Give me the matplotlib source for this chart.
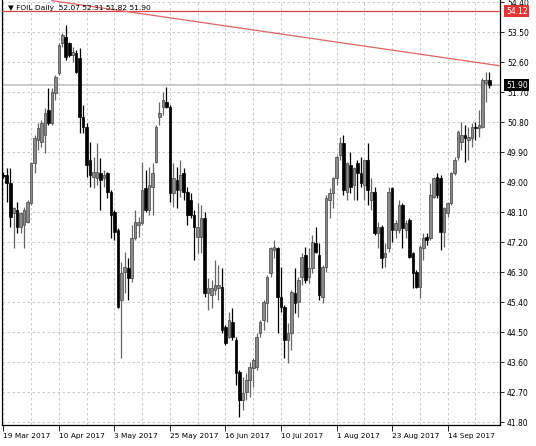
import numpy as np
import matplotlib
matplotlib.use('Agg')
import matplotlib.pyplot as plt
import matplotlib.transforms as mtransforms

# daily OHLC (141 bars, 19 Mar 2017 onwards)
opens = [49.21, 49.21, 48.96, 48.06, 48.16, 47.66, 47.71, 47.81, 48.36, 49.56,
         50.26, 50.21, 50.41, 51.16, 50.76, 51.66, 52.26, 53.16, 53.36, 53.16,
         52.81, 52.86, 52.71, 50.96, 50.66, 49.66, 49.16, 49.11, 49.26, 49.11,
         49.26, 48.71, 48.11, 47.56, 45.46, 46.31, 46.41, 46.11, 47.31, 47.71,
         47.76, 48.81, 48.16, 48.86, 49.61, 50.96, 51.26, 51.41, 51.26, 48.66,
         49.06, 48.76, 49.26, 48.71, 48.46, 48.01, 47.36, 47.36, 47.91, 45.66,
         45.61, 45.76, 45.81, 45.86, 44.66, 44.36, 44.81, 44.26, 43.31, 42.46,
         42.71, 43.06, 43.41, 43.46, 44.46, 44.86, 45.36, 46.26, 46.96, 47.01,
         45.56, 45.26, 44.26, 44.46, 45.66, 45.41, 46.16, 46.81, 46.16, 46.41,
         47.16, 46.81, 45.56, 46.46, 48.46, 48.66, 49.11, 49.81, 50.16, 48.71,
         49.51, 48.91, 49.56, 49.26, 48.91, 49.66, 48.46, 48.71, 47.46, 47.66,
         46.76, 47.01, 48.81, 47.56, 47.56, 48.31, 47.56, 47.86, 46.86, 46.31,
         45.86, 47.01, 47.36, 47.31, 48.56, 49.16, 49.11, 47.51, 48.06, 48.36,
         49.26, 49.76, 50.21, 50.41, 50.26, 50.31, 50.66, 50.61, 50.66, 51.96,
         52.07]
highs = [49.31, 49.41, 49.41, 48.26, 48.41, 48.11, 48.26, 48.46, 49.61, 50.41,
         50.76, 50.86, 51.21, 51.81, 51.81, 52.21, 53.16, 53.46, 53.71, 53.21,
         53.06, 52.96, 53.01, 51.31, 50.76, 50.21, 49.76, 50.16, 49.71, 49.36,
         49.31, 48.76, 48.16, 47.61, 46.61, 46.91, 46.71, 47.71, 48.16, 47.96,
         49.61, 49.36, 49.46, 49.56, 50.71, 51.41, 51.71, 51.86, 51.31, 49.56,
         49.46, 49.66, 49.41, 48.86, 48.66, 48.16, 48.36, 48.31, 48.11, 46.11,
         46.06, 46.66, 46.51, 46.41, 44.71, 45.11, 45.21, 44.36, 43.36, 43.16,
         43.26, 43.61, 43.71, 44.46, 44.86, 45.46, 46.21, 47.06, 47.26, 47.06,
         46.46, 45.31, 44.76, 45.76, 46.41, 46.16, 46.86, 47.06, 47.01, 47.41,
         47.66, 47.16, 46.51, 48.61, 48.81, 49.16, 49.81, 50.36, 50.41, 49.61,
         49.91, 49.46, 49.66, 49.76, 49.66, 50.16, 49.11, 48.86, 47.81, 47.71,
         47.16, 48.86, 48.86, 47.86, 48.46, 48.36, 47.86, 47.91, 46.91, 46.36,
         47.11, 47.46, 47.46, 48.96, 49.16, 49.26, 49.21, 48.26, 48.41, 49.31,
         49.76, 50.56, 50.81, 50.71, 50.66, 50.76, 50.81, 51.16, 52.11, 52.31,
         52.31]
lows = [49.11, 48.41, 47.66, 47.01, 47.46, 47.46, 47.01, 47.76, 48.31, 49.26,
        49.96, 50.06, 49.86, 50.71, 50.71, 51.46, 52.21, 53.06, 52.66, 52.76,
        52.61, 52.26, 50.46, 50.46, 49.16, 48.86, 48.81, 48.91, 48.16, 48.86,
        48.51, 47.31, 47.26, 45.21, 43.71, 45.66, 45.46, 46.01, 47.26, 47.36,
        47.71, 48.11, 48.01, 48.01, 49.56, 50.71, 51.01, 51.21, 48.41, 48.26,
        48.21, 48.56, 48.46, 47.71, 47.91, 46.66, 46.86, 46.86, 45.56, 45.16,
        45.21, 45.61, 45.46, 44.46, 44.11, 44.31, 44.26, 42.91, 41.96, 42.16,
        42.46, 42.56, 42.86, 43.36, 44.36, 44.56, 44.81, 46.16, 46.71, 44.46,
        45.11, 43.71, 43.56, 43.96, 45.06, 44.96, 45.91, 45.96, 45.96, 46.26,
        46.86, 45.46, 45.36, 46.31, 47.91, 48.21, 48.91, 49.66, 48.61, 48.46,
        48.66, 48.46, 48.46, 48.86, 48.46, 48.31, 48.16, 47.41, 47.01, 46.41,
        46.46, 46.91, 47.21, 47.31, 47.46, 47.01, 47.31, 46.71, 45.81, 45.81,
        45.51, 46.66, 47.11, 47.26, 48.51, 48.51, 46.96, 47.06, 47.96, 48.31,
        49.21, 49.66, 49.96, 49.61, 49.66, 50.06, 50.26, 50.36, 50.61, 51.41,
        51.82]
closes = [49.19, 48.96, 47.96, 48.21, 47.66, 48.06, 48.16, 48.41, 49.56, 50.31,
          50.61, 50.76, 51.06, 50.76, 51.71, 52.16, 53.11, 53.41, 52.76, 52.81,
          52.91, 52.31, 50.96, 50.66, 49.51, 49.21, 49.31, 49.31, 49.06, 49.21,
          48.71, 48.01, 47.51, 45.26, 46.26, 46.46, 46.11, 47.31, 47.81, 47.81,
          48.76, 48.16, 48.91, 49.26, 50.66, 51.06, 51.46, 51.26, 48.66, 49.11,
          48.76, 49.21, 48.71, 48.01, 48.01, 47.66, 47.66, 47.91, 45.66, 45.81,
          45.81, 45.91, 45.91, 44.56, 44.16, 44.86, 44.36, 43.26, 42.46, 42.66,
          43.06, 43.46, 43.66, 44.36, 44.81, 45.41, 46.16, 47.01, 47.06, 45.56,
          45.26, 44.26, 44.46, 45.71, 45.36, 46.06, 46.76, 46.06, 46.41, 47.21,
          46.91, 45.61, 46.46, 48.51, 48.66, 49.11, 49.76, 50.16, 48.76, 49.56,
          48.86, 49.41, 49.26, 48.96, 49.66, 48.76, 48.71, 47.46, 47.66, 46.71,
          46.86, 48.71, 47.56, 47.76, 48.31, 47.61, 47.76, 46.76, 46.26, 45.86,
          47.06, 47.31, 47.26, 48.61, 49.11, 48.61, 47.51, 48.21, 48.36, 49.26,
          49.66, 50.51, 50.41, 50.31, 50.36, 50.66, 50.61, 50.71, 52.06, 52.06,
          51.90]

date_labels = ['19 Mar 2017', '10 Apr 2017', '3 May 2017', '25 May 2017', '16 Jun 2017',
               '10 Jul 2017', '1 Aug 2017', '23 Aug 2017', '14 Sep 2017']
date_bars = [0, 16, 32, 48, 64, 80, 96, 112, 128]
price_ticks = [41.80, 42.70, 43.60, 44.50, 45.40, 46.30, 47.20, 48.10, 49.00,
               49.90, 50.80, 51.70, 52.60, 53.50, 54.40]
hline_level = 54.12
bid = 51.90
trend_x = [14, 143.5]
trend_y = [54.44, 52.48]

plt.rcParams['font.family'] = ['DejaVu Sans']
fs = 5.5

fig = plt.figure(figsize=(5.36, 4.46), dpi=100)
ax = fig.add_axes([2/536, 21/446, 498/536, 425/446])

x = np.arange(len(closes))
o = np.array(opens); h = np.array(highs); l = np.array(lows); c = np.array(closes)
up = c >= o

# grid
for gx in np.arange(0, 144, 8):
    ax.axvline(gx, color='#c4c4c4', lw=0.6, ls=(0, (3, 3)), zorder=0)
for gy in price_ticks:
    ax.axhline(gy, color='#c4c4c4', lw=0.6, ls=(0, (3, 3)), zorder=0)

# bid line, horizontal level and trendline
ax.axhline(bid, color='#c8c8c8', lw=1.3, zorder=1)
ax.axhline(hline_level, color='#d84444', lw=0.9, zorder=4)
ax.plot(trend_x, trend_y, color='#e06262', lw=0.9, zorder=4)

# candles
ax.vlines(x[up], l[up], h[up], colors='#666666', lw=0.9, zorder=2)
ax.vlines(x[~up], l[~up], h[~up], colors='black', lw=0.9, zorder=2)
body = np.maximum(np.abs(c - o), 0.03)
bottom = np.minimum(o, c)
ax.bar(x[up], body[up], bottom=bottom[up], width=0.75, color='#8a8a8a',
       edgecolor='#444444', linewidth=0.5, zorder=3)
ax.bar(x[~up], body[~up], bottom=bottom[~up], width=0.75, color='black',
       edgecolor='black', linewidth=0.5, zorder=3)

ax.set_xlim(-0.37, 143.1)
ax.set_ylim(41.71, 54.46)

ax.yaxis.tick_right()
ax.set_yticks(price_ticks)
ax.set_yticklabels(['%.2f' % p for p in price_ticks])
ax.tick_params(axis='y', length=3, width=0.6, pad=2, labelsize=fs, colors='black')
ax.set_xticks(date_bars)
ax.set_xticklabels(date_labels)
for t in ax.get_xticklabels():
    t.set_horizontalalignment('left')
ax.tick_params(axis='x', length=4, width=0.6, pad=1.5, labelsize=5.3)

for s in ['left', 'right', 'bottom']:
    ax.spines[s].set_linewidth(0.9)
    ax.spines[s].set_color('black')
ax.spines['top'].set_visible(False)

# price tags on the right scale
tr = mtransforms.blended_transform_factory(ax.transAxes, ax.transData)
ax.text(1.012, hline_level, '%.2f' % hline_level, transform=tr, fontsize=fs,
        color='white', va='center', ha='left', clip_on=False, zorder=6,
        bbox=dict(boxstyle='square,pad=0.2', fc='#e03535', ec='none'))
ax.text(1.012, bid, '%.2f' % bid, transform=tr, fontsize=fs,
        color='white', va='center', ha='left', clip_on=False, zorder=6,
        bbox=dict(boxstyle='square,pad=0.2', fc='black', ec='none'))

fig.text(8/536, 1 - 8/446, '\u25bc FOIL Daily  52.07 52.31 51.82 51.90',
         fontsize=5.4, va='center', ha='left', color='black')

fig.savefig('out.png', dpi=100, facecolor='white')
